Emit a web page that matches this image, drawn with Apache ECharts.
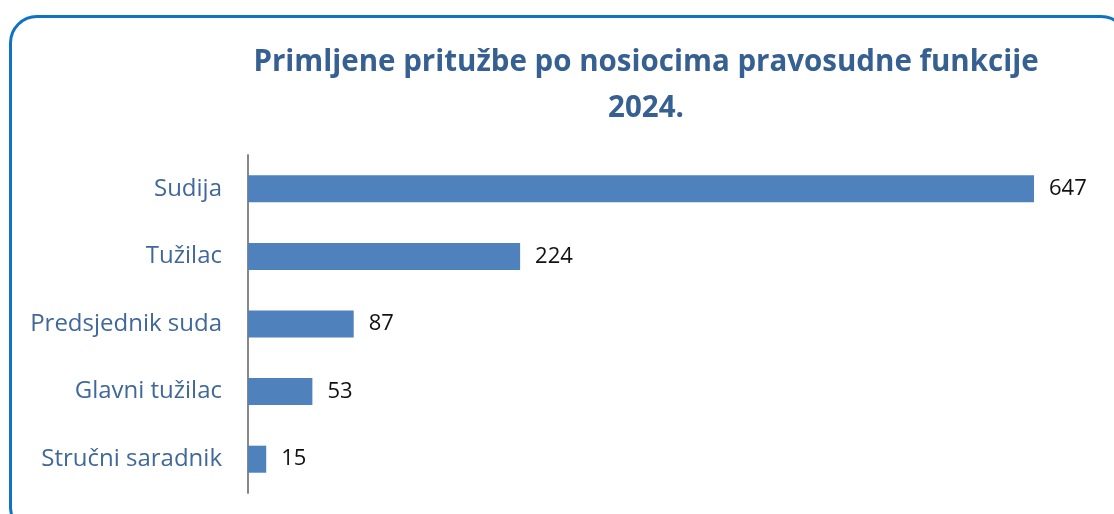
<!DOCTYPE html>
<html>
<head>
<meta charset="utf-8">
<script src="https://cdn.jsdelivr.net/npm/echarts@6/dist/echarts.min.js"></script>
<style>
  html, body { margin: 0; padding: 0; background: #fff; overflow: hidden; }
  #frame {
    position: absolute; left: 9px; top: 15px; width: 1120px; height: 520px;
    border: 3px solid #0F72C2; border-radius: 28px; box-sizing: border-box;
  }
  #chart { position: absolute; left: 0; top: 0; width: 1114px; height: 514px; }
</style>
</head>
<body>
<div id="frame"></div>
<div id="chart"></div>
<script>
// kategorije i vrijednosti
var categories = ["Sudija", "Tužilac", "Predsjednik suda", "Glavni tužilac", "Stručni saradnik"];
var values = [647, 224, 87, 53, 15];
var titleLines = ["Primljene pritužbe po nosiocima pravosudne funkcije", "2024."];

var myChart = echarts.init(document.getElementById("chart"));

var option = {
  backgroundColor: "transparent",
  title: {
    text: titleLines.join("\n"),
    left: 641,
    top: 35,
    textAlign: "center",
    textStyle: {
      fontFamily: "Open Sans",
      fontWeight: "bold",
      fontSize: 29.5,
      lineHeight: 46,
      color: "#376092"
    }
  },
  grid: {
    left: 248,
    top: 155,
    width: 786,
    height: 338
  },
  xAxis: {
    type: "value",
    min: 0,
    max: 647,
    show: false
  },
  yAxis: {
    type: "category",
    inverse: true,
    data: categories,
    axisTick: { show: false },
    axisLine: { show: true, lineStyle: { color: "#888", width: 2 } },
    axisLabel: {
      margin: 26,
      fontFamily: "Open Sans",
      fontSize: 24,
      color: "#41689A"
    }
  },
  series: [
    {
      type: "bar",
      data: values,
      barWidth: "40%",
      itemStyle: { color: "#4F81BD" },
      label: {
        show: true,
        position: "right",
        distance: 15,
        fontFamily: "Open Sans",
        fontSize: 22,
        color: "#111"
      }
    }
  ]
};

myChart.setOption(option);
</script>
</body>
</html>
